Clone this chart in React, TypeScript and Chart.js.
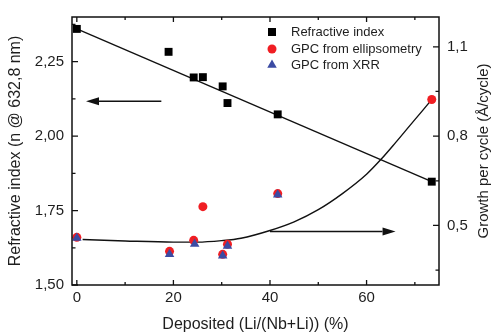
import React, { useEffect, useRef } from 'react';
import { Chart, registerables } from 'chart.js';

Chart.register(...registerables);

// ---- data ----
const depositedN = [0, 19.0, 24.2, 26.1, 30.2, 31.2, 41.6, 73.5];
const refractiveIndex = [2.36, 2.283, 2.197, 2.198, 2.167, 2.111, 2.073, 1.847];

const depositedE = [0, 19.2, 24.2, 26.1, 30.2, 31.2, 41.6, 73.5];
const gpcEllipsometry = [0.46, 0.413, 0.45, 0.563, 0.403, 0.437, 0.607, 0.923];

const depositedX = [0, 19.2, 24.4, 30.2, 31.2, 41.6];
const gpcXRR = [0.458, 0.403, 0.438, 0.398, 0.431, 0.603];

const fitX = [0, 73.5];
const fitN = [2.36, 1.847];

const trendX = [1.2, 10, 20, 25, 30, 34, 40, 45, 50, 55, 60, 63, 66, 69, 71.5, 73.5];
const trendGPC = [0.453, 0.448, 0.444, 0.444, 0.449, 0.457, 0.483, 0.512, 0.553, 0.607, 0.672, 0.722, 0.778, 0.836, 0.884, 0.923];

const xTicks = [0, 20, 40, 60];
const xMinor = [10, 30, 50, 70];
const nTicks = [1.5, 1.75, 2.0, 2.25];
const nMinor = [1.625, 1.875, 2.125, 2.375];
const gTicks = [0.5, 0.8, 1.1];
const gMinor = [0.35, 0.65, 0.95];

const legendLabels = ['Refractive index', 'GPC from ellipsometry', 'GPC from XRR'];
const xTitle = 'Deposited (Li/(Nb+Li)) (%)';
const yTitle = 'Refractive index (n @ 632,8 nm)';
const y1Title = 'Growth per cycle (Å/cycle)';

// arrows: [xFrom, xTo, yValue]
const arrowLeft = [17.5, 1.9, 2.117];
const arrowRight = [40, 66, 0.48];

const FONT = "'Liberation Sans', Arial, sans-serif";
const TEXT = '#1e1e1e';
const RED = '#f01e23';
const BLUE = '#3b4ba3';

const pts = (xs: number[], ys: number[]) => xs.map((x, i) => ({ x, y: ys[i] }));

function arrow(ctx: CanvasRenderingContext2D, x1: number, x2: number, y: number) {
  const dir = Math.sign(x2 - x1);
  const hl = 13, hh = 4;
  ctx.beginPath();
  ctx.moveTo(x1, y);
  ctx.lineTo(x2 - dir * hl, y);
  ctx.stroke();
  ctx.beginPath();
  ctx.moveTo(x2, y);
  ctx.lineTo(x2 - dir * hl, y - hh);
  ctx.lineTo(x2 - dir * hl, y + hh);
  ctx.closePath();
  ctx.fill();
}

const decorPlugin = {
  id: 'decor',
  afterDatasetsDraw(chart: any) {
    const { ctx, chartArea: a, scales } = chart;
    const sx = scales.x, sy = scales.y, sy1 = scales.y1;
    ctx.save();
    ctx.strokeStyle = '#111';
    ctx.fillStyle = '#111';
    ctx.lineWidth = 1.5;
    // frame
    ctx.strokeRect(a.left, a.top, a.right - a.left, a.bottom - a.top);
    // inward ticks
    ctx.lineWidth = 1.3;
    ctx.beginPath();
    const hx = (vals: number[], len: number) => {
      vals.forEach((v) => {
        const p = sx.getPixelForValue(v);
        ctx.moveTo(p, a.bottom); ctx.lineTo(p, a.bottom - len);
        ctx.moveTo(p, a.top); ctx.lineTo(p, a.top + len);
      });
    };
    hx(xTicks, 5); hx(xMinor, 3);
    nTicks.forEach((v) => { const p = sy.getPixelForValue(v); ctx.moveTo(a.left, p); ctx.lineTo(a.left + 6, p); });
    nMinor.forEach((v) => { const p = sy.getPixelForValue(v); ctx.moveTo(a.left, p); ctx.lineTo(a.left + 3.5, p); });
    gTicks.forEach((v) => { const p = sy1.getPixelForValue(v); ctx.moveTo(a.right, p); ctx.lineTo(a.right - 6, p); });
    gMinor.forEach((v) => { const p = sy1.getPixelForValue(v); ctx.moveTo(a.right, p); ctx.lineTo(a.right - 3.5, p); });
    ctx.stroke();
    // arrows
    ctx.lineWidth = 1.5;
    arrow(ctx, sx.getPixelForValue(arrowLeft[0]), sx.getPixelForValue(arrowLeft[1]), sy.getPixelForValue(arrowLeft[2]));
    arrow(ctx, sx.getPixelForValue(arrowRight[0]), sx.getPixelForValue(arrowRight[1]), sy1.getPixelForValue(arrowRight[2]));
    // legend
    const mx = a.right - 167;
    const rows = [a.top + 15, a.top + 32, a.top + 48];
    ctx.fillStyle = '#000';
    ctx.fillRect(mx - 4, rows[0] - 4, 8, 8);
    ctx.fillStyle = RED;
    ctx.beginPath(); ctx.arc(mx, rows[1], 4.5, 0, Math.PI * 2); ctx.fill();
    ctx.fillStyle = BLUE;
    const r = 5.5;
    ctx.beginPath();
    ctx.moveTo(mx, rows[2] - r);
    ctx.lineTo(mx + r * Math.sin(2 * Math.PI / 3), rows[2] + r / 2);
    ctx.lineTo(mx - r * Math.sin(2 * Math.PI / 3), rows[2] + r / 2);
    ctx.closePath(); ctx.fill();
    ctx.fillStyle = TEXT;
    ctx.font = `13px ${FONT}`;
    ctx.textAlign = 'left';
    ctx.textBaseline = 'middle';
    legendLabels.forEach((t, i) => ctx.fillText(t, mx + 19, rows[i] + 0.5));
    // right axis title (reads bottom to top)
    ctx.save();
    ctx.translate(484, (a.top + a.bottom) / 2);
    ctx.rotate(-Math.PI / 2);
    ctx.font = `15px ${FONT}`;
    ctx.textAlign = 'center';
    ctx.textBaseline = 'middle';
    ctx.fillText(y1Title, 0, 0);
    ctx.restore();
    ctx.restore();
  },
};

export default function App() {
  const ref = useRef<HTMLCanvasElement | null>(null);
  useEffect(() => {
    document.body.style.margin = '0';
    if (!ref.current) return;
    const tickFont = { family: FONT, size: 15 };
    const chart = new Chart(ref.current, {
      type: 'scatter',
      data: {
        datasets: [
          {
            label: legendLabels[2], data: pts(depositedX, gpcXRR), yAxisID: 'y1', order: 1,
            pointStyle: 'triangle', pointRadius: 5.5, backgroundColor: BLUE, borderColor: BLUE, borderWidth: 0,
          },
          {
            label: legendLabels[1], data: pts(depositedE, gpcEllipsometry), yAxisID: 'y1', order: 2,
            pointStyle: 'circle', pointRadius: 4.5, backgroundColor: RED, borderColor: RED, borderWidth: 0,
          },
          {
            label: legendLabels[0], data: pts(depositedN, refractiveIndex), yAxisID: 'y', order: 3,
            pointStyle: 'rect', pointRadius: 5.6, backgroundColor: '#000', borderColor: '#000', borderWidth: 0,
          },
          {
            label: 'fit n', data: pts(fitX, fitN), yAxisID: 'y', order: 4, showLine: true,
            pointRadius: 0, borderColor: '#111', borderWidth: 1.4,
          },
          {
            label: 'trend GPC', data: pts(trendX, trendGPC), yAxisID: 'y1', order: 5, showLine: true,
            pointRadius: 0, borderColor: '#111', borderWidth: 1.4, tension: 0.4, cubicInterpolationMode: 'monotone',
          },
        ] as any,
      },
      options: {
        responsive: false,
        animation: false,
        layout: { padding: { top: 15, left: 0, right: 0, bottom: 0 } },
        plugins: { legend: { display: false }, tooltip: { enabled: false } },
        scales: {
          x: {
            type: 'linear', position: 'bottom', min: -1, max: 75,
            afterBuildTicks: (s: any) => { s.ticks = xTicks.map((v) => ({ value: v })); },
            afterFit: (s: any) => { s.height = 48; },
            grid: { display: false, drawTicks: false },
            border: { display: false },
            ticks: { font: tickFont, color: TEXT, padding: 4, autoSkip: false, maxRotation: 0, callback: (v: any) => String(v) },
            title: { display: true, text: xTitle, color: TEXT, font: { family: FONT, size: 16, lineHeight: 1 }, padding: { top: 0, bottom: 0 } },
          },
          y: {
            type: 'linear', position: 'left', min: 1.5, max: 2.4,
            afterBuildTicks: (s: any) => { s.ticks = nTicks.map((v) => ({ value: v })); },
            afterFit: (s: any) => { s.width = 72; },
            grid: { display: false, drawTicks: false },
            border: { display: false },
            ticks: { font: tickFont, color: TEXT, padding: 8, autoSkip: false, callback: (v: any) => Number(v).toFixed(2).replace('.', ',') },
            title: { display: true, text: yTitle, color: TEXT, font: { family: FONT, size: 16, lineHeight: 1 }, padding: { top: 8, bottom: 0 } },
          },
          y1: {
            type: 'linear', position: 'right', min: 0.3, max: 1.2,
            afterBuildTicks: (s: any) => { s.ticks = gTicks.map((v) => ({ value: v })); },
            afterFit: (s: any) => { s.width = 53; },
            grid: { display: false, drawTicks: false },
            border: { display: false },
            ticks: { font: tickFont, color: TEXT, padding: 8, autoSkip: false, callback: (v: any) => Number(v).toFixed(1).replace('.', ',') },
            title: { display: false },
          },
        },
      } as any,
      plugins: [decorPlugin],
    });
    return () => chart.destroy();
  }, []);
  return (
    <div style={{ position: 'absolute', left: 0, top: 0, width: 492, height: 333, background: '#fff' }}>
      <canvas ref={ref} width={492} height={333} />
    </div>
  );
}
